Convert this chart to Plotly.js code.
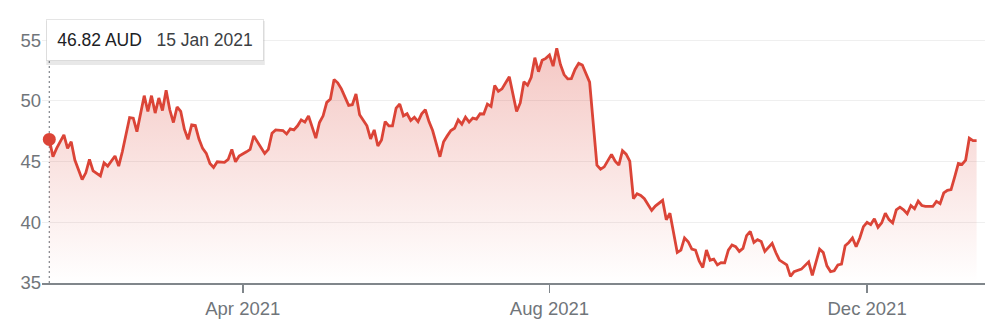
<!DOCTYPE html>
<html>
<head>
<meta charset="utf-8">
<script src="https://cdn.plot.ly/plotly-3.0.1.min.js"></script>
<style>
  html, body { margin: 0; padding: 0; background: #fff; }
  #chart { width: 998px; height: 328px; }
</style>
</head>
<body>
<div id="chart"></div>
<script>
// Trading-day index (0 = 15 Jan 2021) of each vertex
const day = [
  0,1,2,4,5,6,7,9,10,11,
  12,14,15,16,18,19,20,22,23,24,
  26,27,28,29,30,31,32,33,34,35,
  36,37,38,39,40,41,42,43,44,45,
  46,48,49,50,51,52,54,55,56,57,
  59,60,61,62,64,65,66,67,68,69,
  70,71,73,74,75,76,77,78,79,80,
  82,83,84,85,86,87,88,89,90,91,
  92,93,94,95,96,97,98,99,100,101,
  102,103,104,105,107,108,109,110,111,112,
  113,114,115,116,117,118,119,120,121,122,
  123,124,125,126,128,129,130,131,132,133,
  134,135,136,137,138,139,140,141,142,143,
  144,145,146,147,148,150,151,152,154,155,
  156,157,158,159,160,161,162,163,164,165,
  166,167,168,169,170,172,173,174,175,176,
  177,178,179,180,181,182,183,184,185,186,
  187,188,189,190,191,192,193,194,195,196,
  198,199,200,202,203,204,205,206,208,209,
  211,212,213,214,215,216,217,218,219,220,
  221,222,223,224,225,226,227,228,229,230,
  231,232,233,234,235,236,237,238,239,240,
  242,243,244,245,246,247,248,249,250,251,
  252,253,254
];
// Share price (AUD)
const price = [
  46.82,45.39,46.08,47.19,46.08,46.63,45.12,43.52,44.07,45.17,
  44.23,43.81,44.89,44.62,45.45,44.62,45.80,48.62,48.57,47.46,
  50.42,49.12,50.42,48.99,50.23,49.20,50.86,49.26,48.21,49.49,
  49.12,47.66,46.83,48.02,47.96,46.85,46.08,45.67,44.84,44.51,
  44.98,44.93,45.17,46.00,44.98,45.45,45.80,46.00,47.11,46.63,
  45.67,46.00,47.33,47.60,47.55,47.27,47.69,47.60,47.94,48.43,
  48.24,48.76,46.92,48.21,48.76,49.87,50.15,51.75,51.48,50.98,
  49.62,49.68,50.56,48.85,48.43,47.94,46.86,47.60,46.28,46.77,
  48.29,47.94,47.94,49.40,49.73,48.76,48.93,48.38,48.65,48.29,
  48.93,49.26,48.29,47.55,45.39,46.63,47.11,47.55,47.74,48.43,
  48.07,48.65,48.24,48.57,48.49,48.93,48.91,49.73,49.54,51.25,
  50.78,50.98,51.48,51.97,49.12,49.82,51.56,51.28,51.94,53.55,
  52.39,53.33,53.49,53.77,52.85,54.32,52.99,52.16,51.81,51.83,
  52.58,53.08,52.94,52.22,51.53,44.70,44.37,44.56,45.59,45.03,
  44.70,45.89,45.61,45.03,41.94,42.35,42.21,41.94,41.44,40.97,
  41.33,41.58,41.80,40.20,40.75,37.51,37.71,38.71,38.40,37.79,
  37.71,36.82,36.27,37.71,36.88,36.97,36.49,36.68,36.66,37.71,
  38.13,37.99,37.60,37.85,38.90,39.25,38.34,38.57,38.42,37.60,
  38.26,37.51,36.88,36.49,35.55,35.94,36.05,36.14,36.74,35.62,
  37.79,37.51,36.41,35.94,36.00,36.49,36.55,38.07,38.34,38.71,
  37.99,38.71,39.64,40.00,39.81,40.28,39.59,39.95,40.75,40.22,
  39.95,41.03,41.24,41.03,40.70,41.38,41.11,41.74,41.38,41.30,
  41.30,41.72,41.53,42.41,42.63,42.69,43.73,44.84,44.76,45.12,
  46.92,46.72,46.72
];
// Month ticks (trading-day index of first session of the month)
const tickDays = [53, 137, 224];
const tickLabels = ["Apr 2021", "Aug 2021", "Dec 2021"];
const yTicks = [35, 40, 45, 50, 55];
// Tooltip
const tipPrice = "46.82 AUD";
const tipDate = "15 Jan 2021";

const RED = "#db4437";
const FONT = "Liberation Sans, Arial, sans-serif";

const traces = [
  {
    type: "scatter", mode: "lines",
    x: day, y: price,
    line: { color: RED, width: 2.8 },
    fill: "tozeroy",
    fillgradient: {
      type: "vertical", start: 35, stop: 54.5,
      colorscale: [[0, "rgba(219,68,55,0)"], [1, "rgba(219,68,55,0.30)"]]
    },
    hoverinfo: "skip"
  },
  {
    type: "scatter", mode: "markers",
    x: [day[0]], y: [price[0]],
    marker: { color: RED, size: 13 },
    hoverinfo: "skip", cliponaxis: false
  }
];

const layout = {
  width: 998, height: 328,
  margin: { l: 42, r: 13, t: 37, b: 45 },
  paper_bgcolor: "#fff", plot_bgcolor: "#fff",
  showlegend: false,
  font: { family: FONT, size: 18, color: "#70757a" },
  xaxis: {
    range: [-2, 256.3],
    tickmode: "array", tickvals: tickDays, ticktext: tickLabels,
    showgrid: false, zeroline: false,
    showline: true, linecolor: "#80868b", linewidth: 1.5,
    ticks: "outside", ticklen: 8, tickwidth: 1.5, tickcolor: "#80868b",
    tickfont: { family: FONT, size: 18.5, color: "#70757a" },
    fixedrange: true
  },
  yaxis: {
    range: [35, 55.25],
    tickmode: "array", tickvals: yTicks,
    showgrid: true, gridcolor: "#efefef", gridwidth: 1,
    zeroline: false, showline: false, ticks: "",
    tickfont: { family: FONT, size: 18.5, color: "#70757a" },
    fixedrange: true
  },
  shapes: [
    {
      type: "line", layer: "below",
      xref: "x", x0: day[0], x1: day[0],
      yref: "paper", y0: 0, y1: 0.905,
      line: { color: "#80868b", width: 1.2, dash: "2px,3px" }
    },
    {
      // soft drop shadow under the tooltip box
      type: "rect", layer: "above",
      xref: "x", xsizemode: "pixel", xanchor: day[0], x0: -3, x1: 215.5,
      yref: "paper", ysizemode: "pixel", yanchor: 1.073, y0: -46, y1: -2,
      fillcolor: "rgba(0,0,0,0.09)", line: { width: 0 }
    }
  ],
  annotations: [
    {
      xref: "x", x: day[0], xanchor: "left", xshift: -3,
      yref: "paper", y: 1.073, yanchor: "top",
      showarrow: false,
      text: tipPrice + '   <span style="color:#3c4043">' + tipDate + '</span>',
      font: { family: FONT, size: 17.5, color: "#202124" },
      bgcolor: "#ffffff",
      bordercolor: "rgba(0,0,0,0.10)", borderwidth: 1,
      borderpad: 9, width: 198, height: 22, align: "center"
    }
  ]
};

Plotly.newPlot("chart", traces, layout, { displayModeBar: false, staticPlot: true });
</script>
</body>
</html>
